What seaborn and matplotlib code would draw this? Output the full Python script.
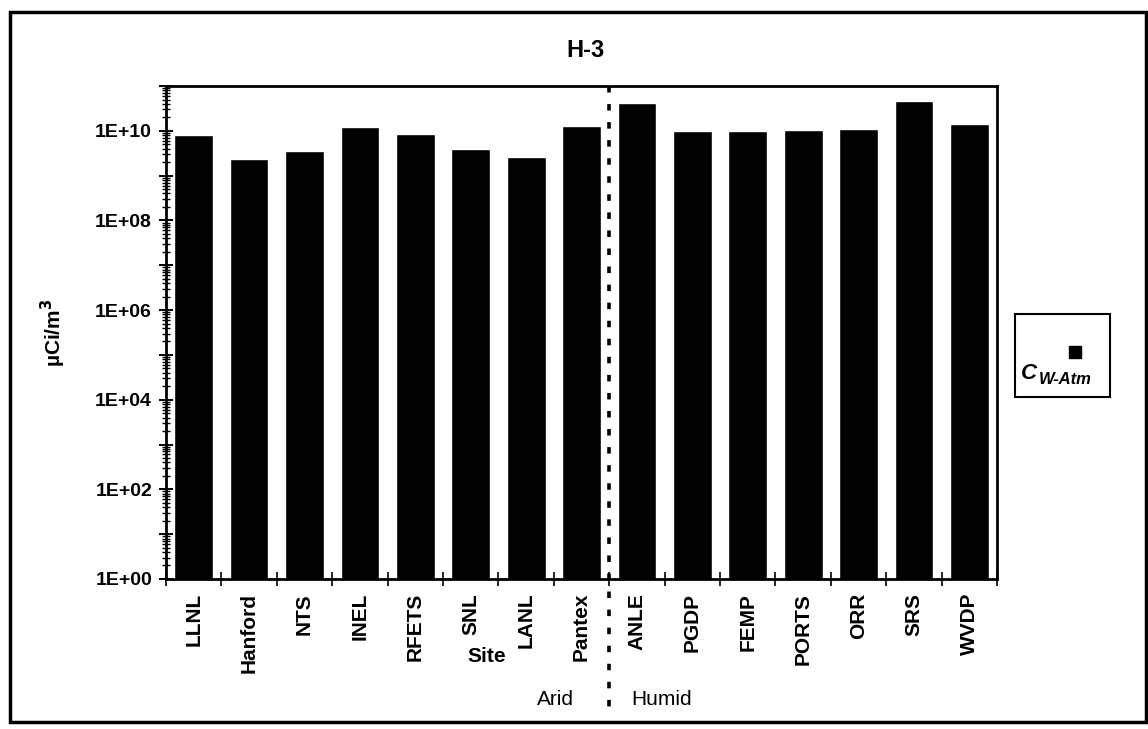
import numpy as np
import pandas as pd
import matplotlib
matplotlib.use("Agg")
import matplotlib.pyplot as plt
import matplotlib.ticker as mticker
from matplotlib.patches import Rectangle
from matplotlib.lines import Line2D
import seaborn as sns

sites = ["LLNL", "Hanford", "NTS", "INEL", "RFETS", "SNL", "LANL", "Pantex",
         "ANLE", "PGDP", "FEMP", "PORTS", "ORR", "SRS", "WVDP"]
c_w_atm = [7.9e9, 2.3e9, 3.6e9, 1.2e10, 8.7e9, 3.9e9, 2.6e9, 1.3e10,
           4.2e10, 9.8e9, 1.0e10, 1.05e10, 1.1e10, 4.7e10, 1.4e10]
n_arid = 8

df = pd.DataFrame({"Site": sites, "value": c_w_atm})

sns.set_style("ticks")
plt.rcParams["font.family"] = ["Liberation Sans", "DejaVu Sans"]
for key in ["text.color", "axes.labelcolor", "xtick.color", "ytick.color", "axes.edgecolor"]:
    plt.rcParams[key] = "black"

fig = plt.figure(figsize=(11.48, 7.29), dpi=100)
ax = fig.add_axes([0.1446, 0.2058, 0.7239, 0.6762])

sns.barplot(data=df, x="Site", y="value", color="black", width=0.7,
            saturation=1, ax=ax)
ax.set_yscale("log")
ax.set_ylim(1, 1e11)
ax.set_xlim(-0.5, len(sites) - 0.5)

# y ticks: every decade, labels on even decades
decades = [10.0 ** k for k in range(0, 12)]
ax.yaxis.set_major_locator(mticker.FixedLocator(decades))
ax.yaxis.set_major_formatter(mticker.FuncFormatter(
    lambda v, p: ("1E+%02d" % round(np.log10(v))) if round(np.log10(v)) % 2 == 0
    and v < 1e11 else ""))
ax.yaxis.set_minor_locator(mticker.LogLocator(base=10, subs=np.arange(2, 10), numticks=50))
ax.yaxis.set_minor_formatter(mticker.NullFormatter())
ax.tick_params(axis="y", which="major", direction="inout", length=10, width=1.4,
               labelsize=14, pad=5)
ax.tick_params(axis="y", which="minor", direction="inout", length=6, width=1.0)
for lab in ax.get_yticklabels():
    lab.set_fontweight("bold")

# x ticks at category boundaries, labels at centers
ax.set_xticks(range(len(sites)))
ax.set_xticklabels(sites, rotation=90, fontsize=15, fontweight="bold")
ax.set_xticks(np.arange(-0.5, len(sites)), minor=True)
ax.tick_params(axis="x", which="major", length=0, pad=10)
ax.tick_params(axis="x", which="minor", direction="inout", length=10, width=1.2)

for s in ax.spines.values():
    s.set_visible(True)
    s.set_linewidth(2)

ax.set_xlabel("")
ax.set_ylabel("\u00b5Ci/m$^\\mathbf{3}$", fontsize=15, fontweight="bold")
ax.yaxis.set_label_coords(-0.118, 0.5)

fig.text(0.51, 0.931, "H-3", fontsize=17, fontweight="bold", ha="center", va="center")
fig.text(0.424, 0.100, "Site", fontsize=15, fontweight="bold", ha="center", va="center")
fig.text(0.4835, 0.040, "Arid", fontsize=15, ha="center", va="center")
fig.text(0.5767, 0.040, "Humid", fontsize=15, ha="center", va="center")

# dotted divider between arid and humid sites
trans = matplotlib.transforms.blended_transform_factory(ax.transData, ax.transAxes)
ax.add_line(Line2D([n_arid - 0.5, n_arid - 0.5], [1.0, -0.26], transform=trans,
                   color="black", linewidth=2.6, dashes=(1.8, 3.2), clip_on=False))

# legend box
fig.add_artist(Rectangle((0.884, 0.4554), 0.083, 0.1139, transform=fig.transFigure,
                         fill=False, edgecolor="black", linewidth=1.5))
fig.add_artist(Rectangle((0.931, 0.509), 0.0105, 0.0165, transform=fig.transFigure,
                         facecolor="black", edgecolor="black"))
fig.text(0.889, 0.487, "C", fontsize=16, style="italic", fontweight="bold",
         ha="left", va="center")
fig.text(0.905, 0.480, "W-Atm", fontsize=12, style="italic", fontweight="bold",
         ha="left", va="center")

# outer frame
fig.add_artist(Rectangle((0.0087, 0.0096), 0.9893, 0.974, transform=fig.transFigure,
                         fill=False, edgecolor="black", linewidth=2.5))

fig.savefig("out.png", dpi=100)
plt.close(fig)
